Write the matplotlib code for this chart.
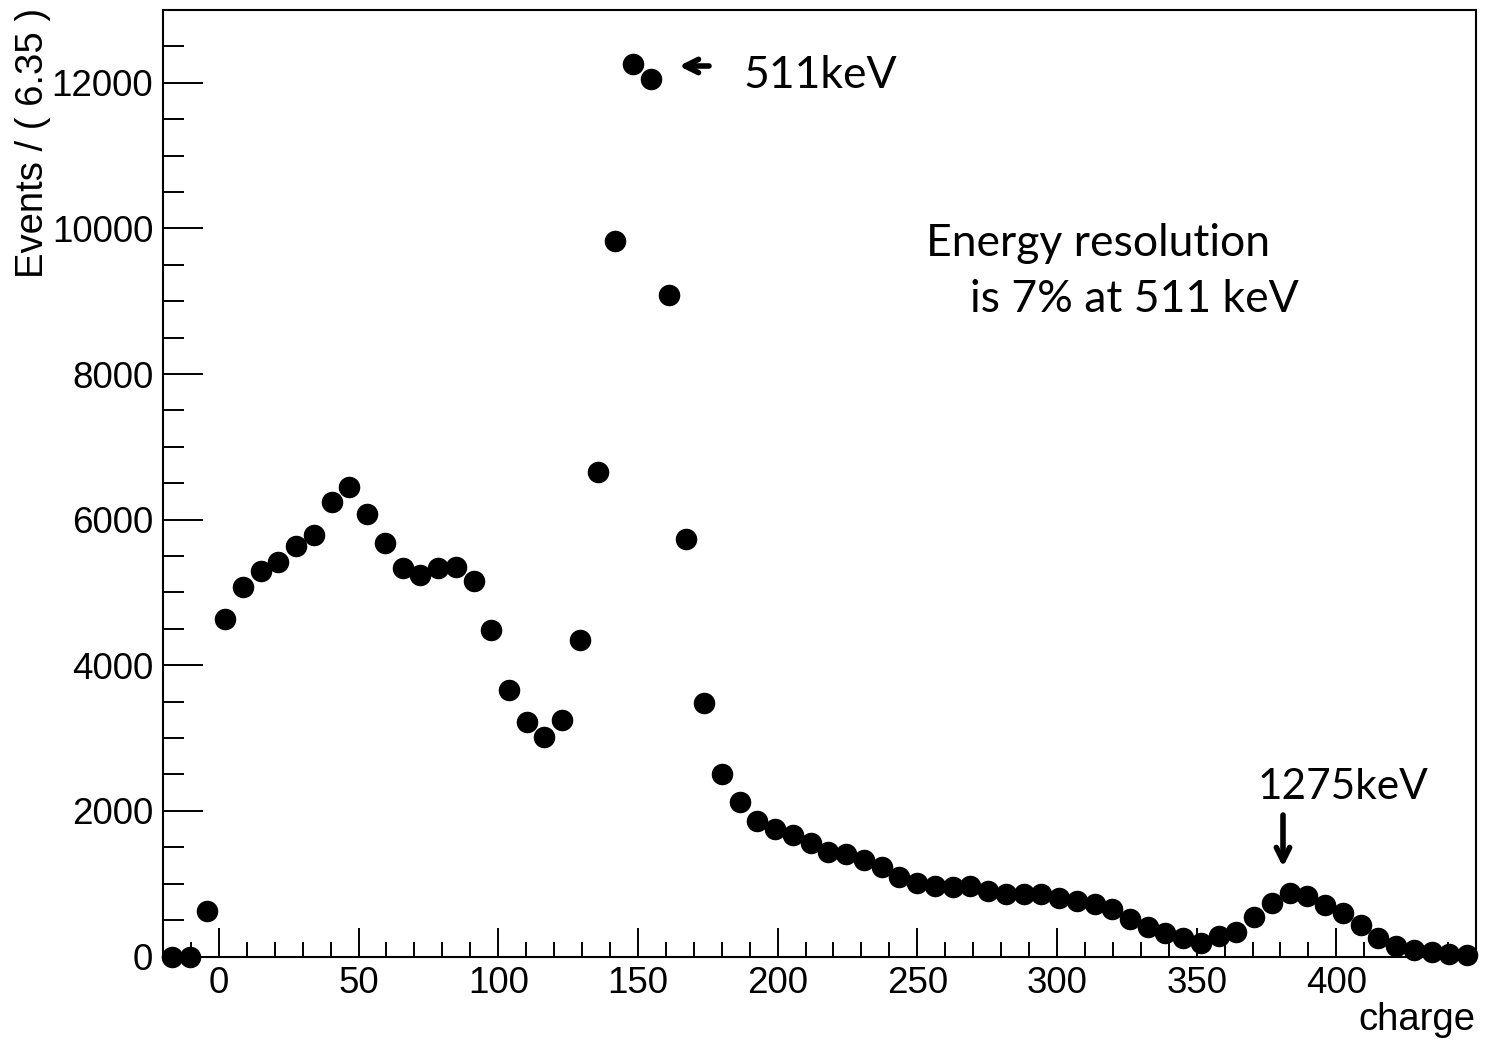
"""
ROOT-style charge spectrum (Na-22 source): 511 keV photopeak and 1275 keV line.
Rendered with matplotlib to mimic the RooPlot look.
"""
import numpy as np
import matplotlib
matplotlib.use("Agg")
import matplotlib.pyplot as plt
from matplotlib.ticker import MultipleLocator

# --- binning: 74 bins of 6.35 between -20 and 450 ---
X_MIN, X_MAX, N_BINS = -20.0, 450.0, 74
bin_w = (X_MAX - X_MIN) / N_BINS
charge = X_MIN + bin_w * (np.arange(N_BINS) + 0.5)

# events per bin
events = [
    0, 0, 625, 4630, 5070, 5295, 5415, 5640, 5785, 6245,
    6450, 6075, 5675, 5330, 5240, 5330, 5350, 5160, 4490, 3660,
    3225, 3020, 3255, 4345, 6650, 9830, 12255, 12050, 9085, 5735,
    3485, 2500, 2125, 1860, 1750, 1670, 1555, 1435, 1405, 1325,
    1235, 1090, 1005, 970, 950, 970, 895, 855, 865, 865,
    800, 765, 720, 650, 510, 410, 320, 250, 185, 280,
    340, 540, 740, 875, 830, 705, 600, 430, 250, 145,
    90, 65, 35, 20,
]

x_ticks = [0, 50, 100, 150, 200, 250, 300, 350, 400]
y_ticks = [0, 2000, 4000, 6000, 8000, 10000, 12000]

W, H, DPI = 1485, 1042, 100
AXFONT = ["Liberation Sans", "DejaVu Sans"]
NOTEFONT = ["Lato", "DejaVu Sans"]


def fx(px):
    return px / W


def fy(py):
    return 1 - py / H


fig = plt.figure(figsize=(W / DPI, H / DPI), dpi=DPI)
fig.patch.set_facecolor("white")
ax = fig.add_axes([fx(163), fy(956.5), fx(1476) - fx(163), fy(10) - fy(956.5)])

ax.plot(charge, events, "o", color="black", ms=14.5, mec="black", zorder=3,
        clip_on=False)

ax.set_xlim(X_MIN, X_MAX)
ax.set_ylim(0, 13000)
ax.set_xticks(x_ticks)
ax.set_yticks(y_ticks)
ax.xaxis.set_minor_locator(MultipleLocator(10))
ax.yaxis.set_minor_locator(MultipleLocator(500))
ax.tick_params(axis="both", which="both", direction="in", top=False, right=False,
               width=1.4, labelsize=26.5, colors="black")
ax.tick_params(axis="y", which="major", length=29, pad=7)
ax.tick_params(axis="y", which="minor", length=15)
ax.tick_params(axis="x", which="major", length=21, pad=7)
ax.tick_params(axis="x", which="minor", length=11)
for lab in ax.get_xticklabels() + ax.get_yticklabels():
    lab.set_family(AXFONT)
for s in ax.spines.values():
    s.set_linewidth(1.5)

fig.text(fx(1475), fy(1020), "charge", ha="right", va="center",
         fontsize=27.5, family=AXFONT)
fig.text(fx(33), fy(8), "Events / ( 6.35 )", ha="center", va="top",
         rotation=90, fontsize=27.5, family=AXFONT)

# annotations
fig.text(fx(743), fy(75), "511keV", ha="left", va="center",
         fontsize=32, family=NOTEFONT)
fig.text(fx(926), fy(243), "Energy resolution", ha="left", va="center",
         fontsize=32, family=NOTEFONT)
fig.text(fx(970), fy(300), "is 7% at 511 keV", ha="left", va="center",
         fontsize=32, family=NOTEFONT)
fig.text(fx(1258), fy(787), "1275keV", ha="left", va="center",
         fontsize=30.5, family=NOTEFONT)

arrow = dict(arrowstyle="->", lw=4, color="black",
             mutation_scale=24, shrinkA=0, shrinkB=0)
fig.add_artist(matplotlib.patches.FancyArrowPatch(
    (fx(709), fy(66)), (fx(679), fy(66)), transform=fig.transFigure, **arrow))
fig.add_artist(matplotlib.patches.FancyArrowPatch(
    (fx(1283), fy(815)), (fx(1283), fy(867)), transform=fig.transFigure, **arrow))

fig.savefig("out.png", dpi=DPI, facecolor="white")
plt.close(fig)
